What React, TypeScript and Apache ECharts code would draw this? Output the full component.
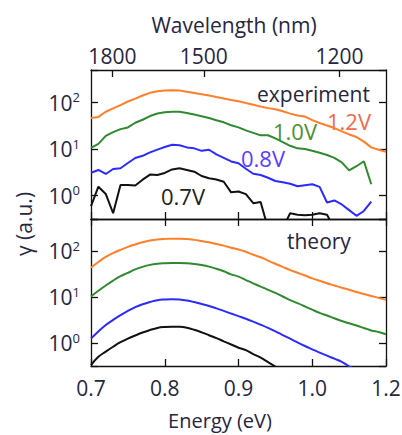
import { useEffect, useRef } from "react";
import * as echarts from "echarts";

// Energy sample positions (eV, axis units)
const energy = [
  0.70, 0.71, 0.72, 0.73, 0.74, 0.75, 0.76, 0.77, 0.78, 0.79,
  0.80, 0.81, 0.82, 0.83, 0.84, 0.85, 0.86, 0.87, 0.88, 0.89,
  0.90, 0.91, 0.92, 0.93, 0.94, 0.95, 0.96, 0.97, 0.98, 0.99,
  1.00, 1.01, 1.02, 1.03, 1.04, 1.05, 1.06, 1.07, 1.08, 1.09, 1.10,
];

// Experiment (top panel)
const exp12V = [
  46.8, 49.2, 63.5, 74.8, 88, 105.6, 122, 142, 162, 175,
  182, 183, 182, 171, 161, 151, 142, 132, 123, 114,
  107, 98, 90, 82, 76, 72, 65, 58, 53, 50,
  42, 36.4, 32.3, 28.4, 24, 20.7, 18.2, 14.5, 10.9, 9.7, 8.8,
];
const exp10V = [
  10.7, 13.0, 19.3, 23.2, 26.9, 29.3, 36.9, 42.8, 51.4, 58.4,
  62, 63.5, 63.5, 59.9, 55.6, 51.1, 46.6, 41.8, 37.7, 32.6,
  29.4, 25.3, 22.4, 19.8, 19.9, 17.0, 14.2, 11.8, 10.4, 10.1,
  9.2, 8.4, 7.5, 6.5, 5.2, 3.5, 4.3, 5.5, 1.76, null, null,
];
const exp08V = [
  3.11, 3.57, 2.93, 3.75, 3.88, 5.04, 6.45, 7.19, 8.54, 9.75,
  11.1, 12.4, 12.1, 10.9, 10.4, 9.2, 9.7, 7.7, 6.5, 5.45,
  4.97, 3.79, 2.96, 2.79, 2.43, 2.07, 1.95, 1.81, 1.60, 1.68,
  1.76, 1.55, 0.715, 0.79, 0.65, 0.49, 0.37, 0.47, 0.75, null, null,
];
const exp07V = [
  0.60, 1.56, 1.09, 0.42, 1.70, 1.69, 1.65, 2.21, 2.84, 2.79,
  3.08, 3.66, 3.88, 3.57, 3.28, 2.65, 2.37, 2.23, 1.99, 1.18,
  1.23, 1.08, 0.69, 0.73, 0.2, 0.1, 0.2, 0.42, 0.39, 0.38,
  0.39, 0.42, 0.39, 0.2, null, null, null, null, null, null, null,
];

// Theory (bottom panel)
const th12V = [
  44, 58.1, 74.7, 90.9, 107, 124, 140, 156, 170, 180,
  185, 187, 187, 184, 176, 166, 156, 143, 132, 119,
  109, 97, 83.4, 73.6, 62.3, 53.1, 45.6, 38.7, 33.8, 29.5,
  25.6, 22.6, 20.0, 17.9, 16.0, 14.4, 12.9, 11.7, 10.6, 9.6, 8.7,
];
const th10V = [
  10.3, 13.7, 17.9, 22.9, 28.5, 33.5, 40, 45.5, 50.2, 53.1,
  54.4, 55.0, 55.0, 54.2, 52.3, 49.7, 46.1, 41.3, 36.4, 31.3,
  27.9, 23.5, 19.9, 16.9, 14.4, 12.4, 10.3, 8.56, 7.36, 6.27,
  5.31, 4.52, 3.97, 3.46, 3.02, 2.69, 2.41, 2.13, 1.88, 1.74, 1.55,
];
const th08V = [
  1.25, 1.78, 2.47, 3.18, 4.03, 5.0, 6.02, 6.97, 7.82, 8.56,
  8.87, 9.0, 8.87, 8.43, 7.78, 7.07, 6.39, 5.67, 5.0, 4.38,
  3.85, 3.38, 2.92, 2.50, 2.13, 1.80, 1.49, 1.24, 1.03, 0.86,
  0.73, 0.62, 0.53, 0.456, 0.39, 0.31, 0.26, 0.21, null, null, null,
];
const th07V = [
  0.33, 0.50, 0.65, 0.83, 1.04, 1.25, 1.46, 1.69, 1.92, 2.13,
  2.23, 2.27, 2.25, 2.14, 1.94, 1.71, 1.48, 1.28, 1.09, 0.93,
  0.79, 0.70, 0.575, 0.48, 0.385, 0.307, 0.245, null, null, null,
  null, null, null, null, null, null, null, null, null, null, null,
];

// Tick labels
const energyTickLabels = ["0.7", "0.8", "0.9", "1.0", "1.2"];
const wavelengthLabels = ["1800", "1500", "1200"];
const wavelengthTickEnergy = [0.729, 0.853, 1.037];

const FONT = "'Open Sans', sans-serif";
const TXT = "#26263f";
const AX = "#111";
const C_OR = "#ff7f2a";
const C_GR = "#2f8a2f";
const C_BL = "#2b2bff";
const C_BK = "#111111";

export default function App() {
  const ref = useRef<HTMLDivElement>(null);
  useEffect(() => {
    const chart = echarts.init(ref.current!, null, { renderer: "svg" });
    const pair = (vals: (number | null)[]) => energy.map((e, i) => [e, vals[i]]);
    const ymin = 0.316;
    const ymax = 501;
    const axisLine = { show: true, onZero: false, lineStyle: { color: AX, width: 1.3 } };
    const tick = { show: true, inside: true, length: 7, lineStyle: { color: AX, width: 1.3 } };
    const logLabel = {
      show: true,
      margin: 11,
      formatter: (v: number) => {
        const l = Math.log10(v);
        const n = Math.round(l);
        if (Math.abs(l - n) > 1e-6) return "";
        return `{b|10}{e|${n}}`;
      },
      rich: {
        b: { fontSize: 21, fontFamily: FONT, color: TXT, lineHeight: 26 },
        e: { fontSize: 13, fontFamily: FONT, color: TXT, lineHeight: 13, padding: [0, 0, 11, 0] },
      },
    };
    const yBase = (grid: number, pos: "left" | "right", label: boolean) => ({
      type: "log",
      logBase: 10,
      gridIndex: grid,
      position: pos,
      min: ymin,
      max: ymax,
      axisLine,
      axisTick: tick,
      axisLabel: label ? logLabel : { show: false },
      splitLine: { show: false },
      minorTick: { show: false },
    });
    const xBase = (grid: number, pos: "top" | "bottom") => ({
      type: "value",
      gridIndex: grid,
      position: pos,
      min: 0.7,
      max: 1.1,
      interval: 0.1,
      axisLine,
      axisTick: tick,
      axisLabel: { show: false },
      splitLine: { show: false },
    });
    const line = (name: string, vals: (number | null)[], color: string, grid: number, smooth: number | boolean) => ({
      name,
      type: "line",
      xAxisIndex: grid === 0 ? 0 : 3,
      yAxisIndex: grid === 0 ? 0 : 2,
      data: pair(vals),
      showSymbol: false,
      symbol: "none",
      smooth,
      clip: true,
      silent: true,
      lineStyle: { color, width: 2 },
      emphasis: { disabled: true },
    });
    const txt = (text: string, x: number, y: number, color: string, size: number, align = "left", rotation = 0) => ({
      type: "text",
      x,
      y,
      rotation,
      silent: true,
      style: { text, fill: color, font: `${size}px ${FONT}`, align, verticalAlign: "middle" },
    });

    const option: any = {
      animation: false,
      backgroundColor: "#ffffff",
      grid: [
        { left: 91, top: 70, width: 295, height: 149, outerBoundsMode: "none", containLabel: false },
        { left: 91, top: 219, width: 295, height: 147, outerBoundsMode: "none", containLabel: false },
      ],
      xAxis: [
        {
          ...xBase(0, "top"),
          interval: undefined,
          axisTick: { ...tick, customValues: wavelengthTickEnergy },
          axisLabel: {
            show: true,
            customValues: wavelengthTickEnergy,
            margin: 4,
            fontSize: 21,
            fontFamily: FONT,
            color: TXT,
            formatter: (v: number) => {
              let best = 0;
              wavelengthTickEnergy.forEach((e, i) => {
                if (Math.abs(e - v) < Math.abs(wavelengthTickEnergy[best] - v)) best = i;
              });
              return wavelengthLabels[best];
            },
          },
        },
        xBase(0, "bottom"),
        xBase(1, "top"),
        {
          ...xBase(1, "bottom"),
          axisLabel: {
            show: true,
            margin: 11,
            fontSize: 21,
            fontFamily: FONT,
            color: TXT,
            formatter: (v: number) => energyTickLabels[Math.round((v - 0.7) / 0.1)] ?? "",
          },
        },
      ],
      yAxis: [yBase(0, "left", true), yBase(0, "right", false), yBase(1, "left", true), yBase(1, "right", false)],
      series: [
        line("exp 1.2V", exp12V, C_OR, 0, false),
        line("exp 1.0V", exp10V, C_GR, 0, false),
        line("exp 0.8V", exp08V, C_BL, 0, false),
        line("exp 0.7V", exp07V, C_BK, 0, false),
        line("theory 1.2V", th12V, C_OR, 1, 0.4),
        line("theory 1.0V", th10V, C_GR, 1, 0.4),
        line("theory 0.8V", th08V, C_BL, 1, 0.4),
        line("theory 0.7V", th07V, C_BK, 1, 0.4),
      ],
      graphic: [
        txt("Wavelength (nm)", 234, 25, TXT, 21, "center"),
        txt("Energy (eV)", 220, 420, TXT, 20, "center"),
        txt("γ (a.u.)", 24, 224, TXT, 21, "center", Math.PI / 2),
        txt("experiment", 257, 94, TXT, 21),
        txt("1.2V", 327, 121, "#f4694a", 22),
        txt("1.0V", 273, 131, "#4d8f2f", 22),
        txt("0.8V", 241, 158, "#5b3dff", 22),
        txt("0.7V", 161, 196, "#222222", 22),
        txt("theory", 287, 241, TXT, 21),
      ],
    };
    chart.setOption(option);
    return () => chart.dispose();
  }, []);
  return <div ref={ref} style={{ position: "fixed", left: 0, top: 0, width: 402, height: 435 }} />;
}
